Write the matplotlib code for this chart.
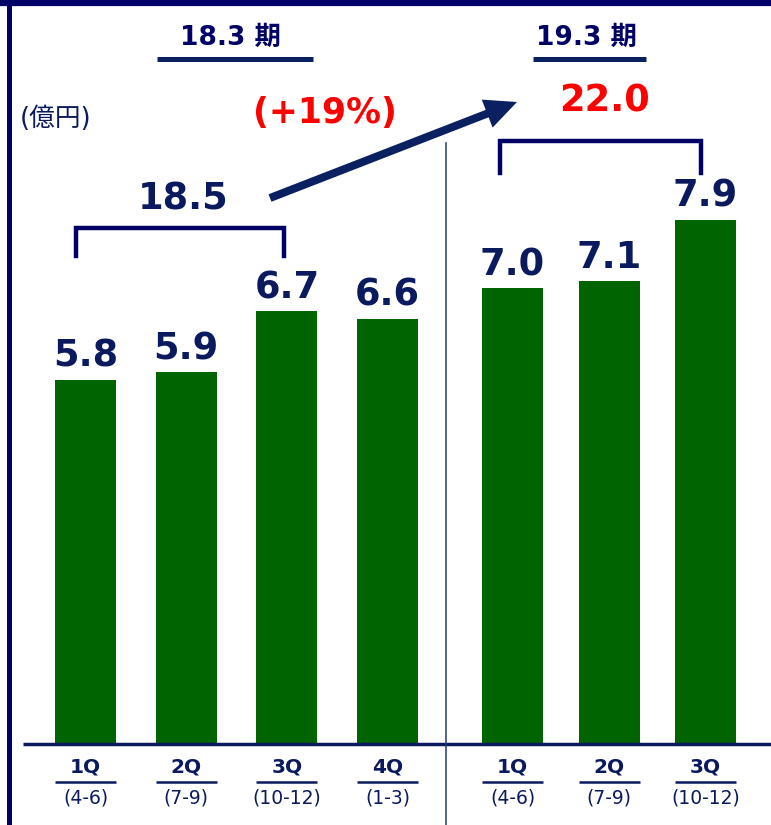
import numpy as np
import matplotlib
matplotlib.use('Agg')
import matplotlib.pyplot as plt
from matplotlib.patches import FancyArrow

# values (oku yen) per quarter
fy18_quarters = ['1Q', '2Q', '3Q', '4Q']
fy18_months = ['(4-6)', '(7-9)', '(10-12)', '(1-3)']
fy18_values = [5.8, 5.9, 6.7, 6.6]

fy19_quarters = ['1Q', '2Q', '3Q']
fy19_months = ['(4-6)', '(7-9)', '(10-12)']
fy19_values = [7.0, 7.1, 7.9]

fy18_total = '18.5'
fy19_total = '22.0'
growth = '(+19%)'
fy18_title = '18.3 期'
fy19_title = '19.3 期'
unit_label = '(億円)'

W, H = 771, 825
NAVY = '#0b1a5e'
DARK = '#000066'
GREEN = '#006400'
RED = '#ff0000'
FONT = ['DejaVu Sans', 'Noto Sans CJK JP']

fig = plt.figure(figsize=(W / 100, H / 100), dpi=100)

# bar axes: bottom at the baseline (y=744 px), 76.2 px per unit
base_px = 744
px_per_unit = 76.2
ymin = 1.02
ax = fig.add_axes([0, (H - base_px) / H, 1, base_px / H])
ax.set_xlim(0, W)
ax.set_ylim(ymin, ymin + base_px / px_per_unit)
ax.axis('off')

x18 = [85.5 + i * 100.7 for i in range(len(fy18_values))]
x19 = [512.5 + i * 96.5 for i in range(len(fy19_values))]
xs = x18 + x19
vals = fy18_values + fy19_values

ax.bar(xs, [v - ymin for v in vals], bottom=ymin, width=61, color=GREEN, zorder=2)
for x, v in zip(xs, vals):
    ax.annotate('%.1f' % v, (x, v), xytext=(0, 9.4), textcoords='offset points',
                ha='center', va='baseline', fontsize=26.5, fontweight='bold',
                color=NAVY, family=FONT)

# overlay in pixel coordinates (y down)
ov = fig.add_axes([0, 0, 1, 1], facecolor='none')
ov.set_xlim(0, W)
ov.set_ylim(H, 0)
ov.axis('off')

# frame
ov.plot([8.5, 8.5], [0, H], color=DARK, lw=3.6, solid_capstyle='butt')
ov.plot([0, W], [3, 3], color=DARK, lw=4.5, solid_capstyle='butt')

# baseline and divider
ov.plot([23, W], [base_px, base_px], color=NAVY, lw=2.5, solid_capstyle='butt')
ov.plot([446, 446], [143, H], color='#1f3a7a', lw=1.1)

# period titles
ov.text(230, 38, fy18_title, ha='center', va='center', fontsize=19,
        fontweight='bold', color=DARK, family=FONT)
ov.plot([157, 313], [59, 59], color='#0a2060', lw=3.6, solid_capstyle='butt')
ov.text(586, 38, fy19_title, ha='center', va='center', fontsize=19,
        fontweight='bold', color=DARK, family=FONT)
ov.plot([533, 646], [59, 59], color='#0a2060', lw=3.6, solid_capstyle='butt')

ov.text(56, 119, unit_label, ha='center', va='center', fontsize=18.5,
        color=NAVY, family=FONT)

# brackets
ov.plot([76, 76, 284, 284], [256, 228, 228, 256], color=DARK, lw=3.2,
        solid_joinstyle='miter')
ov.plot([500, 500, 701, 701], [173, 141, 141, 173], color=DARK, lw=3.2,
        solid_joinstyle='miter')

ov.text(183, 199, fy18_total, ha='center', va='center', fontsize=26.5,
        fontweight='bold', color=NAVY, family=FONT)
ov.text(605, 101, fy19_total, ha='center', va='center', fontsize=26.5,
        fontweight='bold', color=RED, family=FONT)
ov.text(325, 113, growth, ha='center', va='center', fontsize=25,
        fontweight='bold', color=RED, family=FONT)

# growth arrow
ov.add_patch(FancyArrow(270, 198, 517 - 270, 102 - 198, width=8, head_width=30,
                        head_length=32, length_includes_head=True,
                        color='#0a2060', lw=0))

# quarter labels
quarters = fy18_quarters + fy19_quarters
months = fy18_months + fy19_months
for x, q, m in zip(xs, quarters, months):
    ov.text(x, 767, q, ha='center', va='center', fontsize=14.5,
            fontweight='bold', color=NAVY, family=FONT)
    ov.plot([x - 30.5, x + 30.5], [782, 782], color=NAVY, lw=1.8,
            solid_capstyle='butt')
    ov.text(x, 798, m, ha='center', va='center', fontsize=13.5,
            color=NAVY, family=FONT)

fig.savefig('out.png', dpi=100)
